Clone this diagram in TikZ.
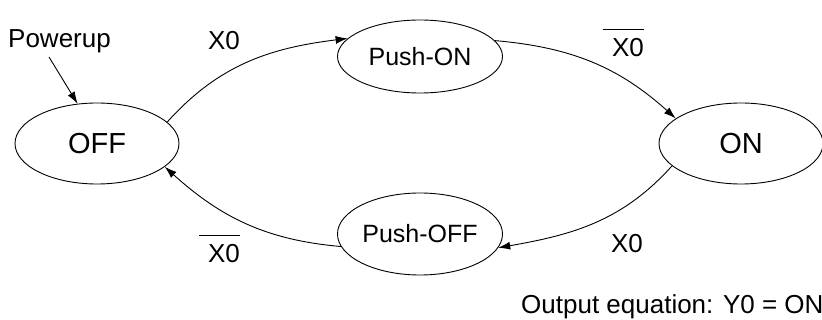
\documentclass[tikz,border=0pt]{standalone}
\usepackage{fontspec}
\setmainfont{Liberation Sans}
\usetikzlibrary{shapes.geometric,arrows.meta}
\tikzset{
  state/.style={ellipse,draw,line width=0.9pt,inner sep=0pt,minimum width=164pt,minimum height=81pt,font=\fontsize{29}{32}\selectfont},
  pushstate/.style={ellipse,draw,line width=0.9pt,inner sep=0pt,minimum width=165pt,minimum height=73pt,font=\fontsize{25}{28}\selectfont},
  lbl/.style={inner sep=0pt,font=\fontsize{26}{30}\selectfont},
  trans/.style={line width=0.9pt,-{Latex[length=12pt,width=8pt]}},
  negbar/.style={line width=1pt},
}
\begin{document}
\begin{tikzpicture}[x=1pt,y=-1pt]
\useasboundingbox (0,0) rectangle (822,320);
\node[state] (off) at (97,143.5) {OFF};
\node[state] (on) at (741,143.5) {ON};
\node[pushstate] (pon) at (420,56.5) {Push-ON};
\node[pushstate, minimum height=82pt] (poff) at (420,234) {Push-OFF};
\node[lbl, anchor=base west] (pw) at (8,48) {Powerup};
\node[lbl, anchor=base] (l1) at (224,50) {X0};
\node[lbl, anchor=base] (l2) at (628,57) {X0};
\node[lbl, anchor=base] (l3) at (627,253) {X0};
\node[lbl, anchor=base] (l4) at (224,263) {X0};
\node[lbl, anchor=base west] (eq) at (521,314) {Output equation: Y0 = ON};
\draw[negbar] ([xshift=-9pt,yshift=9pt]l2.north west) -- ([yshift=9pt]l2.north east);
\draw[negbar] ([xshift=-9pt,yshift=9pt]l4.north west) -- ([yshift=9pt]l4.north east);
\coordinate (pwstart) at (49,57);
\draw[trans] (pwstart) -- (off.116);
\draw[trans] (off.17) to[out=48,in=187] (pon.166);
\draw[trans] (pon.12) to[out=-5,in=138] (on.159);
\draw[trans] (on.198) to[out=228,in=10] (poff.-10);
\draw[trans] (poff.189) to[out=175,in=-42] (off.-19);
\end{tikzpicture}
\end{document}
